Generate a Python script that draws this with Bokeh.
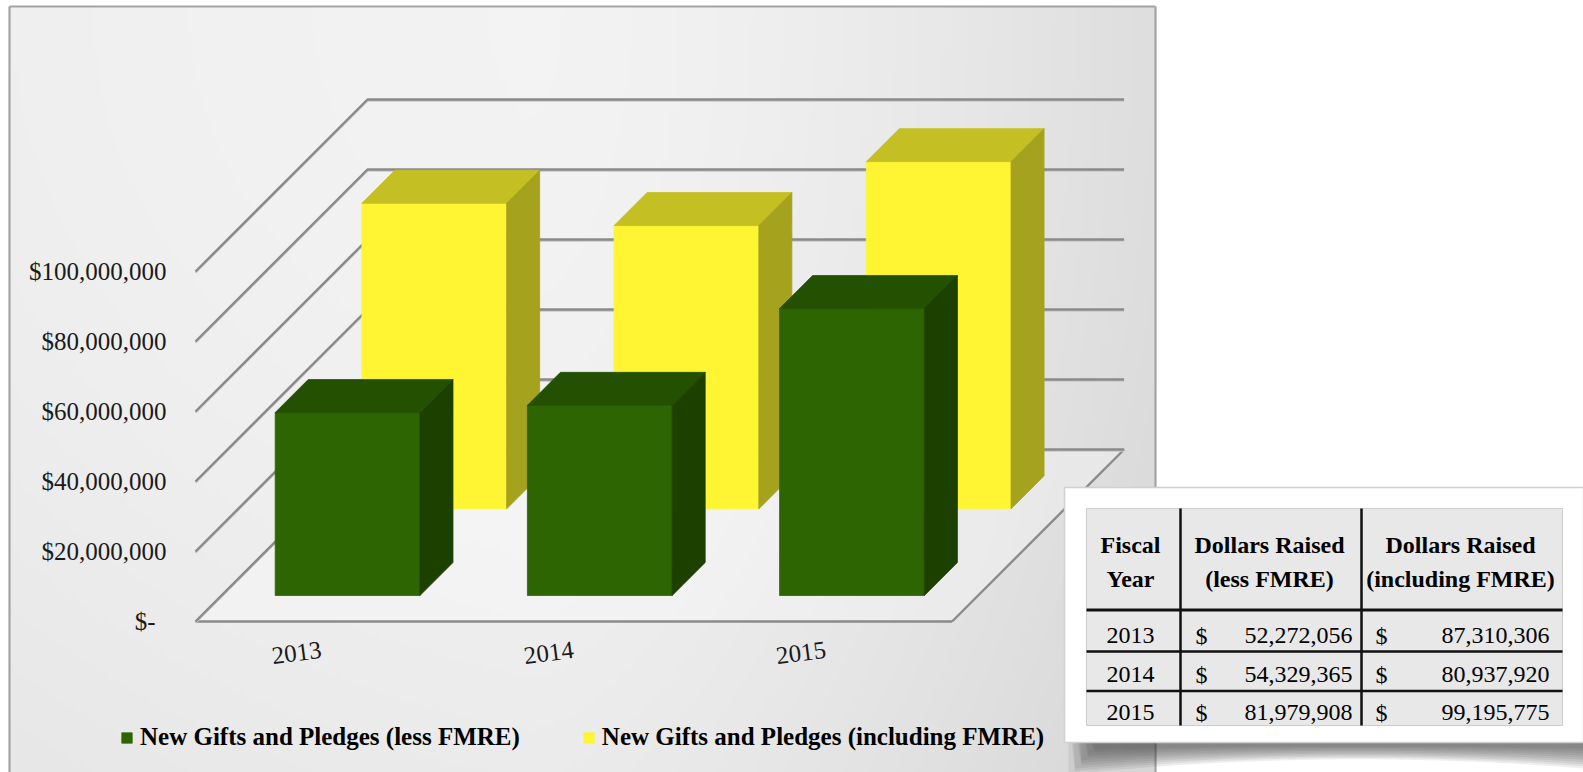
import numpy as np
from bokeh.plotting import figure
from bokeh.models import Legend, LegendItem, Range1d
from bokeh.embed import file_html
from bokeh.resources import INLINE
from bokeh.core.properties import value

# ---------------- data ----------------
years = ["2013", "2014", "2015"]
less_fmre = [52272056, 54329365, 81979908]
incl_fmre = [87310306, 80937920, 99195775]
series_names = ["New Gifts and Pledges (less FMRE)",
                "New Gifts and Pledges (including FMRE)"]
y_ticks = [0, 20000000, 40000000, 60000000, 80000000, 100000000]
y_tick_labels = ["$-", "$20,000,000", "$40,000,000", "$60,000,000",
                 "$80,000,000", "$100,000,000"]
table_header_1 = ["Fiscal", "Dollars Raised", "Dollars Raised"]
table_header_2 = ["Year", "(less FMRE)", "(including FMRE)"]
table_years = ["2013", "2014", "2015"]
table_less = ["52,272,056", "54,329,365", "81,979,908"]
table_incl = ["87,310,306", "80,937,920", "99,195,775"]

# ---------------- layout ----------------
W, H = 1583, 772
M = 0
X0 = 195.0        # page x of front-left floor corner
Y0 = 621.0        # page y of front floor edge
CAT = 252.2       # px per category
PXD = 3.5e-6      # px per dollar
DEPTH = 172.0     # px depth offset (45 deg)
BW = 0.574        # bar width (category units)
Z_GREEN = (0.151, 0.343)
Z_YELLOW = (0.655, 0.847)
SERIF = value("Liberation Serif")
GRID = "#8a8a8a"


def px(xp):
    return (xp - X0) / CAT


def py(yp):
    return (Y0 - yp) / PXD


DX = DEPTH / CAT
DY = DEPTH / PXD
N = len(years)

p = figure(width=W, height=H,
           x_range=Range1d(px(M), px(M + W)),
           y_range=Range1d(py(M + H), py(M)),
           output_backend="svg", toolbar_location=None,
           x_axis_location=None, y_axis_location=None, min_border=0)
p.grid.visible = False
p.outline_line_color = None
p.background_fill_color = "white"
p.border_fill_color = "white"

# ---- chart background gradient ----
nx, ny = 300, 150
u = np.linspace(0, 1, nx)[None, :]
v = np.linspace(1, 0, ny)[:, None]
val = (244 - 22 * np.clip((u - 0.45) / 0.55, 0, 1) ** 1.5
       - 8 * v ** 2 - 5 * (1 - u) ** 3)
val = np.clip(val, 0, 255).astype(np.uint8)
img = np.empty((ny, nx), dtype=np.uint32)
view = img.view(dtype=np.uint8).reshape((ny, nx, 4))
view[:, :, 0] = val
view[:, :, 1] = val
view[:, :, 2] = val
view[:, :, 3] = 255
p.image_rgba(image=[img], x=px(9), y=py(772), dw=px(1155) - px(9),
             dh=py(6) - py(772))

# border of the chart box
p.multi_line(xs=[[px(9), px(9)], [px(9), px(1155)], [px(1155), px(1155)]],
             ys=[[py(772), py(6)], [py(6), py(6)], [py(6), py(772)]],
             line_color="#a3a3a3", line_width=2.2)

# ---- floor ----
p.patch(x=[0, N, N + DX, DX], y=[0, 0, DY, DY], fill_color="white",
        fill_alpha=0.3, line_color=None)
p.multi_line(xs=[[0, N], [N, N + DX]], ys=[[0, 0], [0, DY]],
             line_color=GRID, line_width=2.4)

# ---- gridlines (left wall + back wall) with a soft shadow ----
gxs = [[0, DX, N + DX] for t in y_ticks]
gys = [[t, t + DY, t + DY] for t in y_ticks]
p.multi_line(xs=gxs, ys=[[y - 1.2 / PXD for y in row] for row in gys],
             line_color="#c8c8c8", line_width=2)
p.multi_line(xs=gxs, ys=gys, line_color=GRID, line_width=2.4)

# ---- y tick labels ----
offs = [-11 if lab == "$-" else 0 for lab in y_tick_labels]
p.text(x=[px(166)] * len(y_ticks), y=y_ticks, text=y_tick_labels,
       x_offset=offs, text_align="right", text_baseline="middle",
       text_font=SERIF, text_font_size="25px", text_color="#1a1a1a")

# ---- x labels ----
p.text(x=[i + 0.5 - 25 / CAT for i in range(N)],
       y=[py(652)] * N, text=years, angle=0.13,
       text_align="center", text_baseline="middle",
       text_font=SERIF, text_font_size="25px", text_color="#1a1a1a")


# ---- 3D bars ----
def faces(vals, z):
    z0, z1 = z
    ox0, oy0, ox1, oy1 = z0 * DX, z0 * DY, z1 * DX, z1 * DY
    fr, tp, sd = ([], []), ([], []), ([], [])
    for i, vv in enumerate(vals):
        xl, xr = i + 0.5 - BW / 2, i + 0.5 + BW / 2
        fr[0].append([xl + ox0, xr + ox0, xr + ox0, xl + ox0])
        fr[1].append([oy0, oy0, vv + oy0, vv + oy0])
        tp[0].append([xl + ox0, xr + ox0, xr + ox1, xl + ox1])
        tp[1].append([vv + oy0, vv + oy0, vv + oy1, vv + oy1])
        sd[0].append([xr + ox0, xr + ox1, xr + ox1, xr + ox0])
        sd[1].append([oy0, oy1, vv + oy1, vv + oy0])
    return fr, tp, sd


def draw(vals, z, cf, ct, cs):
    fr, tp, sd = faces(vals, z)
    r = p.patches(xs=fr[0], ys=fr[1], fill_color=cf, line_color=cf,
                  line_width=0.8)
    p.patches(xs=tp[0], ys=tp[1], fill_color=ct, line_color=ct, line_width=0.8)
    p.patches(xs=sd[0], ys=sd[1], fill_color=cs, line_color=cs, line_width=0.8)
    return r


r_yel = draw(incl_fmre, Z_YELLOW, "#fff533", "#c4c023", "#a5a21d")
r_grn = draw(less_fmre, Z_GREEN, "#2e6503", "#245001", "#1c4000")

legend = Legend(items=[LegendItem(label=series_names[0], renderers=[r_grn]),
                       LegendItem(label=series_names[1], renderers=[r_yel])],
                location=(120, 21), orientation="horizontal",
                label_text_font="Liberation Serif",
                label_text_font_style="bold", label_text_font_size="25px",
                label_text_color="#000000", glyph_width=13, glyph_height=13,
                label_standoff=7, spacing=62, padding=0, margin=0,
                background_fill_alpha=0, border_line_alpha=0)
p.add_layout(legend)

# ---- table panel with curled shadow ----
sx = np.linspace(1068, 1583, 80)
for k in range(10):
    s = 1.0 - k * 0.085
    t = (sx - 1068) / (1583 - 1068)
    depth = (32 * (1 - t) ** 2 + 5 * 2 * t * (1 - t) + 26 * t ** 2) * s
    left_in = 1068 + k * 2.5
    sel = sx >= left_in
    xs_ = [left_in] + list(sx[sel]) + list(sx[sel][::-1])
    ys_ = [736] + list(742 + depth[sel]) + [736] * int(sel.sum())
    p.patch(x=[px(a) for a in xs_], y=[py(b) for b in ys_],
            fill_color="#3f3f3f", fill_alpha=0.085, line_color=None)
p.quad(left=[px(1064)], right=[px(1583)], top=[py(487)], bottom=[py(742)],
       fill_color="white", line_color="#d0d0d0", line_width=1.5)

# table body
TL, TR, TT, TB = 1086, 1562, 508, 725
p.quad(left=[px(TL)], right=[px(TR)], top=[py(TT)], bottom=[py(TB)],
       fill_color="#e8e8e8", line_color="#cdcdcd", line_width=1)
p.multi_line(xs=[[px(1180), px(1180)], [px(1361), px(1361)]],
             ys=[[py(TT), py(TB)], [py(TT), py(TB)]],
             line_color="#111111", line_width=2.5)
p.multi_line(xs=[[px(TL), px(TR)]], ys=[[py(609.5), py(609.5)]],
             line_color="#111111", line_width=3)
p.multi_line(xs=[[px(TL), px(TR)], [px(TL), px(TR)]],
             ys=[[py(651), py(651)], [py(690.5), py(690.5)]],
             line_color="#111111", line_width=2.5)

col_cx = [1130, 1269, 1460]
p.text(x=[px(c) for c in col_cx], y=[py(544)] * 3, text=table_header_1,
       text_align="center", text_baseline="middle", text_font=SERIF,
       text_font_style="bold", text_font_size="24px", text_color="#000000")
p.text(x=[px(c) for c in col_cx], y=[py(578)] * 3, text=table_header_2,
       text_align="center", text_baseline="middle", text_font=SERIF,
       text_font_style="bold", text_font_size="24px", text_color="#000000")

row_y = [py(635), py(674), py(712)]
tstyle = dict(text_baseline="middle", text_font=SERIF,
              text_font_size="24px", text_color="#000000")
p.text(x=[px(1130)] * 3, y=row_y, text=table_years, text_align="center",
       **tstyle)
p.text(x=[px(1201)] * 3, y=row_y, text=["$"] * 3, text_align="center",
       **tstyle)
p.text(x=[px(1352)] * 3, y=row_y, text=table_less, text_align="right",
       **tstyle)
p.text(x=[px(1381)] * 3, y=row_y, text=["$"] * 3, text_align="center",
       **tstyle)
p.text(x=[px(1549)] * 3, y=row_y, text=table_incl, text_align="right",
       **tstyle)

open("out.html", "w").write(file_html(p, INLINE))
